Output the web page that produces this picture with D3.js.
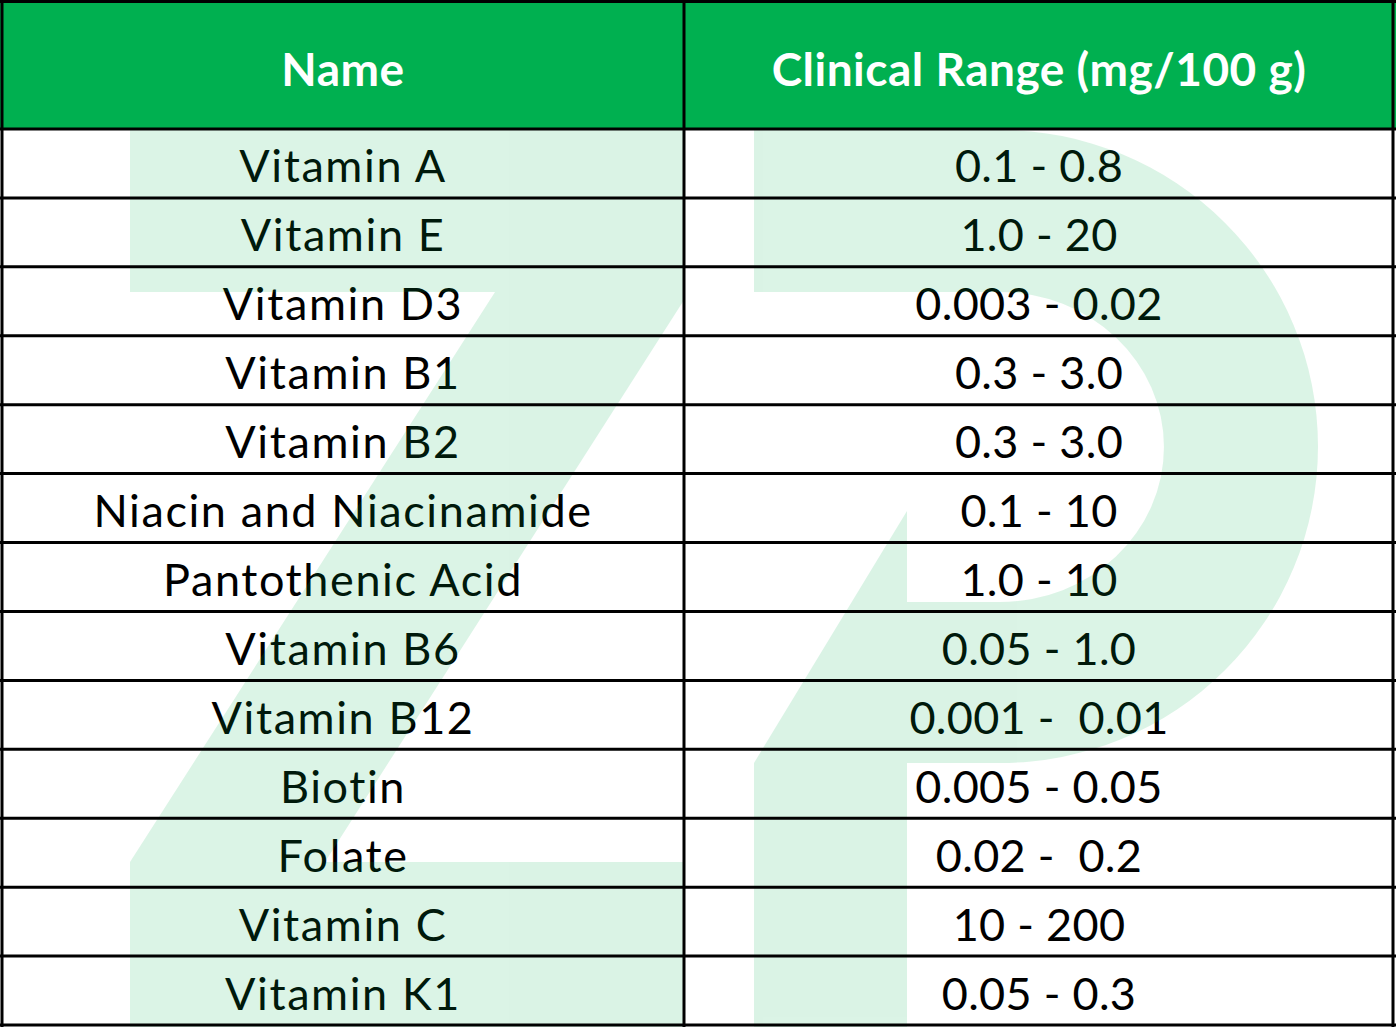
<!DOCTYPE html>
<html><head><meta charset="utf-8">
<script src="https://cdn.jsdelivr.net/npm/d3@7"></script>
<style>body{margin:0;background:#fff} text{white-space:pre}</style>
</head><body>
<div id="tbl"></div>
<script>
// table content
var headers = ["Name", "Clinical Range (mg/100 g)"];
var names = ["Vitamin A", "Vitamin E", "Vitamin D3", "Vitamin B1", "Vitamin B2",
  "Niacin and Niacinamide", "Pantothenic Acid", "Vitamin B6", "Vitamin B12",
  "Biotin", "Folate", "Vitamin C", "Vitamin K1"];
var ranges = ["0.1 - 0.8", "1.0 - 20", "0.003 - 0.02", "0.3 - 3.0", "0.3 - 3.0",
  "0.1 - 10", "1.0 - 10", "0.05 - 1.0", "0.001 -  0.01",
  "0.005 - 0.05", "0.02 -  0.2", "10 - 200", "0.05 - 0.3"];

var W = 1396, H = 1027, headH = 129, colX = 684;
var font = "Lato, 'Open Sans', sans-serif";

var svg = d3.select("#tbl").append("svg")
  .attr("width", W).attr("height", H);

var y = d3.scaleBand().domain(d3.range(names.length)).range([headH, 1025]);
var x = d3.scaleOrdinal().domain([0, 1]).range([343, 1039]);

// header
svg.append("rect").attr("x", 0).attr("y", 0).attr("width", W).attr("height", headH)
  .attr("fill", "#00b050");
svg.selectAll(".hd").data(headers).enter().append("text")
  .attr("x", function (d, i) { return x(i); })
  .attr("y", 68)
  .attr("text-anchor", "middle").attr("dominant-baseline", "central")
  .style("font-family", font).style("font-weight", "bold").style("font-size", "46px")
  .style("letter-spacing", "0.5px")
  .style("fill", "#fff")
  .text(function (d) { return d; });

// body text
var rows = svg.append("g");
[names, ranges].forEach(function (col, ci) {
  rows.selectAll(".c" + ci).data(col).enter().append("text")
    .attr("x", x(ci))
    .attr("y", function (d, i) { return y(i) + y.bandwidth() / 2 + 2; })
    .attr("text-anchor", "middle").attr("dominant-baseline", "central")
    .style("font-family", font).style("font-size", "45px").style("fill", "#000")
    .style("letter-spacing", ci === 0 ? "1.6px" : "0.3px")
    .text(function (d) { return d; });
});

// watermark "ZP" drawn over the text
var wm = svg.append("g").attr("fill", "#00b050").attr("opacity", 0.14);
wm.append("path").attr("d",
  "M130,130 H684 V300 L325,862 H684 V1027 H130 V862 L495,292 H130 Z");
wm.append("path").attr("d",
  "M754,130 H1000 A318,316.5 0 0 1 1000,763 H754 L907,511 V602 H1000 A164,155 0 0 0 1000,292 H754 Z");
wm.append("rect").attr("x", 754).attr("y", 763).attr("width", 153).attr("height", 264);

// grid lines
var grid = svg.append("g").attr("stroke", "#000").attr("stroke-width", 3);
grid.selectAll(".h").data(d3.range(names.length)).enter().append("line")
  .attr("x1", 0).attr("x2", W)
  .attr("y1", function (d) { return y(d); }).attr("y2", function (d) { return y(d); });
grid.append("line").attr("x1", 0).attr("x2", W).attr("y1", 1025).attr("y2", 1025);
[2, colX, 1393].forEach(function (xx) {
  grid.append("line").attr("x1", xx).attr("x2", xx).attr("y1", 0).attr("y2", 1027);
});
grid.append("line").attr("x1", 0).attr("x2", W).attr("y1", 1.5).attr("y2", 1.5);
</script>
</body></html>
